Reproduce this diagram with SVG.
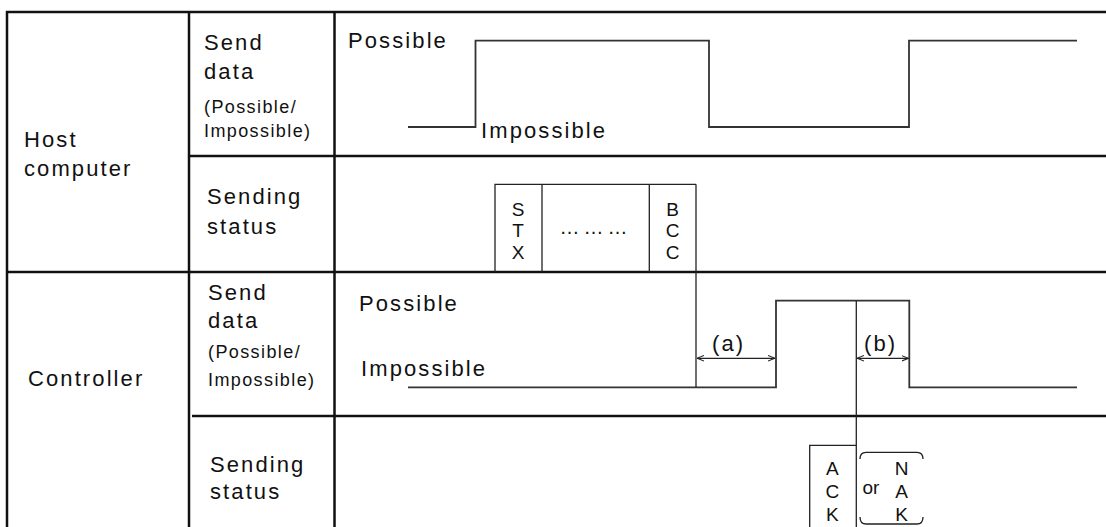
<svg xmlns="http://www.w3.org/2000/svg" width="1106" height="527" viewBox="0 0 1106 527">
<defs>
<style>
text{font-family:"Liberation Sans",Arial,sans-serif;fill:#111}
.lb{font-size:22px;letter-spacing:2.1px}
.sm{font-size:18px;letter-spacing:1.4px}
.ch{font-size:19px;text-anchor:middle}
.grid{stroke:#111;stroke-width:2.5;fill:none}
.wave{stroke:#333;stroke-width:1.8;fill:none}
.thin{stroke:#222;stroke-width:1.3;fill:none}
</style>
<marker id="ah" viewBox="0 0 10 10" refX="10" refY="5" markerWidth="7" markerHeight="7" orient="auto-start-reverse" markerUnits="userSpaceOnUse">
<path d="M0,1 L10,5 L0,9" fill="none" stroke="#222" stroke-width="1.5"/>
</marker>
</defs>
<rect width="1106" height="527" fill="#fff"/>
<g id="grid">
<path class="grid" d="M7,527 V12 H1106 M189,12 V527 M334.5,12 V527 M189,156 H1106 M7,272 H1106 M192,416 H1106"/>
</g>
<g id="host-label"><text class="lb" x="24" y="147">Host</text><text class="lb" x="24" y="176">computer</text></g>
<g id="host-send-label"><text class="lb" x="204" y="50">Send</text><text class="lb" x="204" y="79">data</text><text class="sm" x="204" y="113">(Possible/</text><text class="sm" x="204" y="137">Impossible)</text></g>
<g id="host-status-label"><text class="lb" x="207" y="204">Sending</text><text class="lb" x="207" y="234">status</text></g>
<g id="ctrl-label"><text class="lb" x="28" y="386">Controller</text></g>
<g id="ctrl-send-label"><text class="lb" x="208" y="300">Send</text><text class="lb" x="208" y="328">data</text><text class="sm" x="208" y="358">(Possible/</text><text class="sm" x="208" y="386">Impossible)</text></g>
<g id="ctrl-status-label"><text class="lb" x="210" y="472">Sending</text><text class="lb" x="210" y="499">status</text></g>
<g id="host-wave">
<path class="wave" d="M408,127 H475.5 V40.7 H709 V127 H909 V40.7 H1077"/>
<text class="lb" x="348" y="48">Possible</text>
<text class="lb" x="481" y="138">Impossible</text>
</g>
<g id="host-frame">
<path class="thin" d="M495,272 V184.3 H696 M542,184.3 V272 M649.3,184.3 V272"/>
<text class="ch" x="518" y="216">S</text><text class="ch" x="518" y="237">T</text><text class="ch" x="518" y="259">X</text>
<text class="ch" x="595.5" y="234" style="font-size:20px;letter-spacing:4px">………</text>
<text class="ch" x="672.5" y="216">B</text><text class="ch" x="672.5" y="237">C</text><text class="ch" x="672.5" y="259">C</text>
</g>
<g id="ctrl-wave">
<path class="wave" d="M408,387.3 H776 V300.7 H909.3 V387.3 H1077"/>
<text class="lb" x="359" y="311">Possible</text>
<text class="lb" x="361" y="376">Impossible</text>
</g>
<g id="connectors">
<path class="thin" d="M696,184.3 V387.3" stroke="#555"/>
<path class="thin" d="M856.3,300.7 V527"/>
<line class="thin" x1="697" y1="358.3" x2="775" y2="358.3" marker-start="url(#ah)" marker-end="url(#ah)"/>
<line class="thin" x1="857" y1="358.3" x2="908.5" y2="358.3" marker-start="url(#ah)" marker-end="url(#ah)"/>
<text class="lb" x="712" y="351">(a)</text>
<text class="lb" x="864" y="351">(b)</text>
</g>
<g id="ctrl-frame">
<path class="thin" d="M809.7,527 V445.3 H856.3"/>
<text class="ch" x="832.3" y="475">A</text><text class="ch" x="832.3" y="498">C</text><text class="ch" x="832.3" y="521">K</text>
<path class="thin" d="M860,459 Q860,452.3 866,452.3 H917 Q923,452.3 923,459 M860,517 Q860,524 866,524 H917 Q923,524 923,517"/>
<text class="ch" x="871" y="494">or</text>
<text class="ch" x="901.7" y="475">N</text><text class="ch" x="901.7" y="498">A</text><text class="ch" x="901.7" y="521">K</text>
</g>
</svg>
